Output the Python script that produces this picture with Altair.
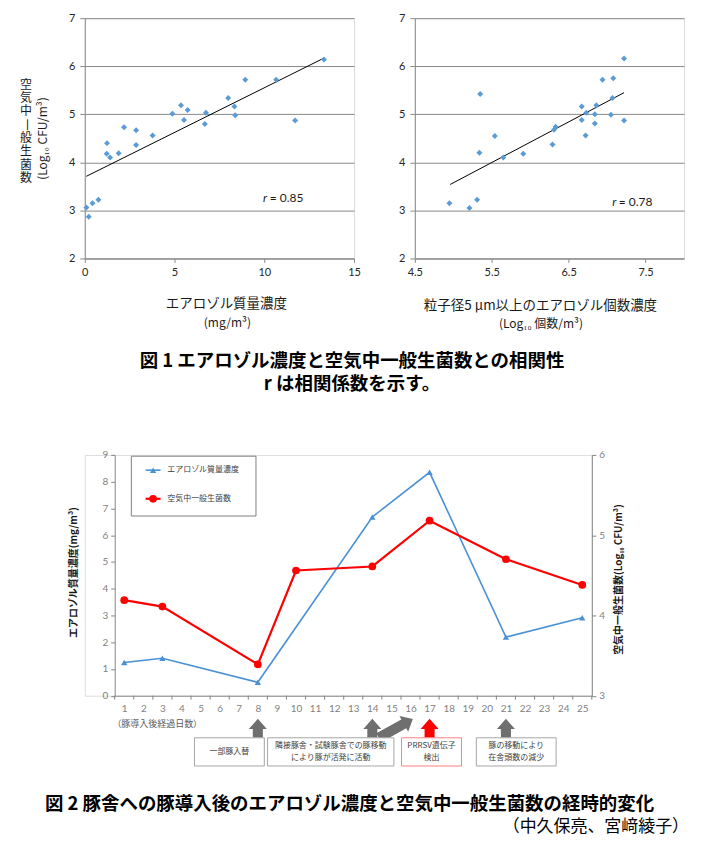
import altair as alt
import pandas as pd

# ---------------- data ----------------
# Fig.1 left: aerosol mass concentration (mg/m3) vs airborne bacteria (log10 CFU/m3)
mass_conc = [0.09, 0.22, 0.43, 0.76, 1.24, 1.22, 1.41, 1.89, 2.19, 2.86, 2.86, 3.78, 4.88,
             5.36, 5.53, 5.73, 6.69, 6.75, 7.99, 8.34, 8.38, 8.94, 10.66, 11.72, 13.33]
mass_bact = [3.06, 2.87, 3.15, 3.22, 4.40, 4.18, 4.10, 4.19, 4.73, 4.67, 4.36, 4.56, 5.01,
             5.19, 4.88, 5.09, 4.80, 5.03, 5.34, 5.16, 4.98, 5.72, 5.72, 4.87, 6.14]
mass_fit_x = [0.09, 13.33]
mass_fit_y = [3.71, 6.17]
r_mass = "0.85"

# Fig.1 right: log10 count of particles >= 5 um vs airborne bacteria
count_conc = [4.95, 5.21, 5.31, 5.35, 5.34, 5.54, 5.65, 5.91, 6.29, 6.31, 6.33, 6.67,
              6.67, 6.73, 6.72, 6.84, 6.84, 6.86, 6.94, 7.08, 7.07, 7.05, 7.22, 7.22]
count_bact = [3.15, 3.05, 3.22, 5.42, 4.20, 4.55, 4.10, 4.18, 4.37, 4.68, 4.74, 5.16,
              4.88, 5.03, 4.56, 4.81, 5.00, 5.19, 5.72, 5.75, 5.34, 4.99, 6.16, 4.87]
count_fit_x = [4.96, 7.22]
count_fit_y = [3.54, 5.45]
r_count = "0.78"

# Fig.2: time course
day_labels = list(range(1, 26))
mass_days = [1, 3, 8, 14, 17, 21, 25]
mass_series = [1.24, 1.40, 0.50, 6.68, 8.35, 2.19, 2.91]
bact_days = [1, 3, 8, 10, 14, 17, 21, 25]
bact_series = [4.19, 4.11, 3.39, 4.56, 4.61, 5.18, 4.70, 4.38]

event_days = [8, 14, 17, 21]
event_notes = ["一部豚入替",
               "隣接豚舎・試験豚舎での豚移動\nにより豚が活発に活動",
               "PRRSV遺伝子\n検出",
               "豚の移動により\n在舎頭数の減少"]
event_detected = [False, False, True, False]

# ---------------- layout / style ----------------
FONT = "Noto Sans CJK JP"
NUM = "Lato, Noto Sans CJK JP"
PT = "#5b9bd5"
BLUE = "#4a90d6"
RED = "#ff0000"
AX = "#8a8a8a"
ARROW = "#6f6f6f"

# box spans (in day units) for the event notes
box_spans = [(4.68, 8.34), (8.51, 15.13), (15.53, 18.67), (19.45, 23.63)]

ARROW_UP = "M0,-1L0.95,0.08L0.53,0.08L0.53,1L-0.53,1L-0.53,0.08L-0.95,0.08Z"
ARROW_LONG = "M0,-1L0.46,-0.47L0.26,-0.47L0.26,1L-0.26,1L-0.26,-0.47L-0.46,-0.47Z"

one = pd.DataFrame({"k": [0]})


def txt(s, x, y, size=12, angle=0, align="center", baseline="middle",
        weight="normal", color="#1a1a1a", style="normal", font=FONT, lh=None):
    kw = dict(align=align, baseline=baseline, fontSize=size, fontWeight=weight,
              color=color, fontStyle=style, font=font, lineBreak="\n")
    if angle:
        kw["angle"] = angle
    if lh:
        kw["lineHeight"] = lh
    return alt.Chart(pd.DataFrame({"t": [s]})).mark_text(**kw).encode(
        text="t:N", x=alt.value(x), y=alt.value(y))


def frame(x1, x2, y1, y2):
    return alt.Chart(one).mark_rect(opacity=0).encode(
        x=alt.value(x1), x2=alt.value(x2), y=alt.value(y1), y2=alt.value(y2))


# ---------------- Fig.1 scatter panels ----------------
def scatter(xv, yv, fx, fy, xdom, xticks, xfmt, extra, frm):
    df = pd.DataFrame({"x": xv, "y": yv})
    fit = pd.DataFrame({"x": fx, "y": fy})
    xs = alt.Scale(domain=xdom, nice=False, zero=False)
    ys = alt.Scale(domain=[2, 7], nice=False, zero=False)
    xa = alt.Axis(values=xticks, format=xfmt, grid=False, domainColor=AX, tickColor=AX,
                  tickSize=4, labelPadding=4, labelFont=NUM, labelFontSize=11,
                  labelColor="#262626", title=None, labelFlush=False)
    ya = alt.Axis(values=[2, 3, 4, 5, 6, 7], grid=True, gridColor=AX, domainColor=AX,
                  tickColor=AX, tickSize=5, labelPadding=5, labelFont=NUM,
                  labelFontSize=11, labelColor="#262626", title=None)
    pts = alt.Chart(df).mark_point(shape="diamond", filled=True, size=36, color=PT,
                                   opacity=1).encode(
        x=alt.X("x:Q", scale=xs, axis=xa), y=alt.Y("y:Q", scale=ys, axis=ya))
    line = alt.Chart(fit).mark_line(color="#000000", strokeWidth=1).encode(
        x=alt.X("x:Q", scale=xs, axis=xa), y=alt.Y("y:Q", scale=ys, axis=ya))
    return alt.layer(frm, line, pts, *extra).properties(width=270, height=241)


s1_extra = [
    txt("r", 178.7, 180.3, size=12, align="left", style="italic", font=NUM),
    txt("= " + r_mass, 185.5, 180.3, size=12, align="left", font=NUM),
    txt("エアロゾル質量濃度", 142, 287, size=13.5),
    txt("(mg/m³)", 143, 306, size=12),
    txt("(Log₁₀ CFU/m³)", -41.7, 120.7, size=12, angle=270),
    # vertical (stacked) axis title; first line is placed at y, following lines below
    txt("空\n気\n中", -59, 67, size=12, lh=13.3),
    txt("一", -59, 106.9, size=12, angle=90),
    txt("般\n生\n菌\n数", -59, 120.2, size=12, lh=13.3),
]

s2_extra = [
    txt("r", 198, 184, size=12, align="left", style="italic", font=NUM),
    txt("= " + r_count, 204.5, 184, size=12, align="left", font=NUM),
    txt("粒子径5 µm以上のエアロゾル個数濃度", 126, 289, size=13.5),
    txt("(Log₁₀ 個数/m³)", 126.5, 306.7, size=12),
]

s1 = scatter(mass_conc, mass_bact, mass_fit_x, mass_fit_y, [0, 15], [0, 5, 10, 15], "d",
             s1_extra, frame(-76, 300, -8, 324))
s2 = scatter(count_conc, count_bact, count_fit_x, count_fit_y, [4.5, 8],
             [4.5, 5.5, 6.5, 7.5], ".1f", s2_extra, frame(-29, 282, -8, 324))
top = alt.hconcat(s1, s2, spacing=0)

# ---------------- Fig.2 time course ----------------
OX = 30                     # plot-area offset inside the panel
PW, H2 = 478.5, 241.5       # plot-area width / height
W2 = OX + PW
xsc = alt.Scale(domain=[0.5, 25.5], range=[OX, W2], nice=False, zero=False)
xax = alt.Axis(values=day_labels, ticks=False, tickSize=0, labelPadding=8, labelFont=NUM,
               labelFontSize=10, labelColor="#7f7f7f", domainColor="#868686", grid=False,
               title=None, labelFlush=False, labelOverlap=False)


def X(f):
    return alt.X(f, scale=xsc, axis=xax)


yl = alt.Y("v:Q", scale=alt.Scale(domain=[0, 9], nice=False),
           axis=alt.Axis(orient="left", offset=-OX, values=list(range(10)), tickSize=4,
                         tickColor="#868686", domainColor="#868686", labelPadding=3,
                         labelFont=NUM, labelFontSize=10, labelColor="#7f7f7f", grid=False,
                         title=None))
yr = alt.Y("v:Q", scale=alt.Scale(domain=[3, 6], nice=False, zero=False),
           axis=alt.Axis(orient="right", values=[3, 4, 5, 6], tickSize=4, tickColor="#868686",
                         domainColor="#868686", labelPadding=3, labelFont=NUM,
                         labelFontSize=10, labelColor="#7f7f7f", grid=False, title=None))

mass_df = pd.DataFrame({"day": mass_days, "v": mass_series})
bact_df = pd.DataFrame({"day": bact_days, "v": bact_series})

blue_group = alt.layer(
    alt.Chart(mass_df).mark_line(color=BLUE, strokeWidth=1.6).encode(x=X("day:Q"), y=yl),
    alt.Chart(mass_df).mark_point(shape="triangle-up", filled=True, size=40, color=BLUE,
                                  opacity=1).encode(x=X("day:Q"), y=yl),
)
red_group = alt.layer(
    alt.Chart(bact_df).mark_line(color=RED, strokeWidth=2.2).encode(x=X("day:Q"), y=yr),
    alt.Chart(bact_df).mark_point(shape="circle", filled=True, size=60, color=RED,
                                  opacity=1).encode(x=X("day:Q"), y=yr),
)

ticks_df = pd.DataFrame({"b": [d - 0.5 for d in day_labels] + [day_labels[-1] + 0.5]})
xticks = alt.Chart(ticks_df).mark_rule(color="#868686", strokeWidth=1).encode(
    x=X("b:Q"), y=alt.value(H2), y2=alt.value(H2 + 4))

ev = pd.DataFrame({
    "day": event_days,
    "note": event_notes,
    "det": event_detected,
    "x1": [b[0] for b in box_spans],
    "x2": [b[1] for b in box_spans],
})
ev["xc"] = (ev["x1"] + ev["x2"]) / 2
ev["two"] = ev["note"].str.contains("\n")
ev_gray = ev[~ev["det"]]
ev_red = ev[ev["det"]]

arrows_gray = alt.Chart(ev_gray).mark_point(shape=ARROW_UP, filled=True, size=361,
                                            color=ARROW, opacity=1).encode(
    x=X("day:Q"), y=alt.value(274.2))
arrows_red = alt.Chart(ev_red).mark_point(shape=ARROW_UP, filled=True, size=361,
                                          color=RED, opacity=1).encode(
    x=X("day:Q"), y=alt.value(274.2))
diag_df = pd.DataFrame({"day": [15.23]})
arrow_diag = alt.Chart(diag_df).mark_point(shape=ARROW_LONG, filled=True, size=1521,
                                           angle=61, color=ARROW, opacity=1).encode(
    x=X("day:Q"), y=alt.value(274.2))

boxes_gray = alt.Chart(ev_gray).mark_rect(fill="white", stroke="#a6a6a6",
                                          strokeWidth=1).encode(
    x=X("x1:Q"), x2="x2:Q", y=alt.value(283.7), y2=alt.value(312))
boxes_red = alt.Chart(ev_red).mark_rect(fill="white", stroke="#ff8080",
                                        strokeWidth=1).encode(
    x=X("x1:Q"), x2="x2:Q", y=alt.value(283.7), y2=alt.value(312))
box_text_kw = dict(font=FONT, fontSize=8, color="#404040", lineBreak="\n",
                   lineHeight=12, baseline="middle", align="center")
box_text2 = alt.Chart(ev[ev["two"]]).mark_text(**box_text_kw).encode(
    x=X("xc:Q"), y=alt.value(292), text="note:N")
box_text1 = alt.Chart(ev[~ev["two"]]).mark_text(**box_text_kw).encode(
    x=X("xc:Q"), y=alt.value(298), text="note:N")

legend_layers = [
    alt.Chart(one).mark_rect(fill="white", stroke="#7f7f7f", strokeWidth=1).encode(
        x=alt.value(OX + 16.7), x2=alt.value(OX + 141.7), y=alt.value(1.3), y2=alt.value(61.3)),
    alt.Chart(one).mark_rule(color=BLUE, strokeWidth=1.6).encode(
        x=alt.value(OX + 31), x2=alt.value(OX + 46), y=alt.value(15.3)),
    alt.Chart(one).mark_point(shape="triangle-up", filled=True, size=40, color=BLUE,
                              opacity=1).encode(x=alt.value(OX + 38.5), y=alt.value(15.3)),
    alt.Chart(one).mark_rule(color=RED, strokeWidth=2.2).encode(
        x=alt.value(OX + 31), x2=alt.value(OX + 46), y=alt.value(44)),
    alt.Chart(one).mark_point(shape="circle", filled=True, size=60, color=RED,
                              opacity=1).encode(x=alt.value(OX + 38.5), y=alt.value(44)),
    txt("エアロゾル質量濃度", OX + 52.7, 15.3, size=8, align="left", color="#404040"),
    txt("空気中一般生菌数", OX + 52.7, 44, size=8, align="left", color="#404040"),
]

text_layers = [
    txt("エアロゾル質量濃度(mg/m³)", OX - 41, 118, size=10, angle=270, weight="bold"),
    txt("空気中一般生菌数(Log₁₀ CFU/m³)", OX + 506, 125, size=10, angle=270, weight="bold"),
    txt("（豚導入後経過日数）", OX - 2.3, 269.7, size=9, align="left", color="#595959"),
    txt("図 1  エアロゾル濃度と空気中一般生菌数との相関性", OX + 238, -94, size=18.5,
        weight="bold", color="#000000"),
    txt("r は相関係数を示す。", OX + 238, -71, size=18.5, weight="bold", color="#000000"),
    txt("図 2  豚舎への豚導入後のエアロゾル濃度と空気中一般生菌数の経時的変化", OX + 235.5,
        350, size=18.5, weight="bold", color="#000000"),
    txt("（中久保亮、宮﨑綾子）", OX + 576, 373, size=17, align="right", color="#000000"),
]

line_chart = alt.layer(
    frame(-76, 610, -112, 370),
    *legend_layers,
    blue_group,
    red_group,
    xticks,
    arrow_diag,
    arrows_gray,
    arrows_red,
    boxes_gray,
    boxes_red,
    box_text2,
    box_text1,
    *text_layers,
).resolve_scale(y="independent").properties(width=W2, height=H2)

chart = alt.vconcat(top, line_chart, spacing=0).properties(
    padding=0, background="white"
).configure_view(stroke=None).configure(font=FONT)

chart.save("out.html", embed_options={"renderer": "svg", "actions": False})
